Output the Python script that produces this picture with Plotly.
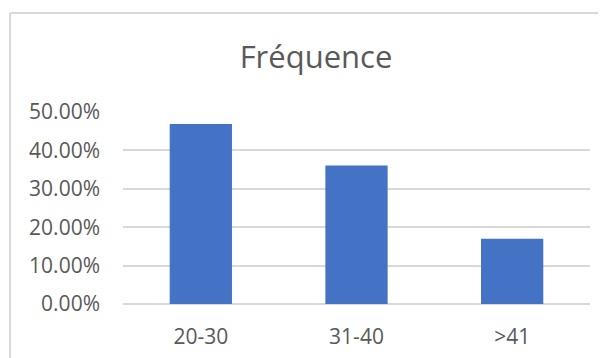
import plotly.graph_objects as go

categories = ["20-30", "31-40", ">41"]
values = [0.469, 0.361, 0.170]
tick_vals = [0.0, 0.1, 0.2, 0.3, 0.4, 0.5]

FONT = "Open Sans"
GREY = "#595959"
GRID = "#d9d9d9"

W, H = 598, 350
L, R, T, B = 115, 16, 104, 54
PW, PH = W - L - R, H - T - B

fig = go.Figure(go.Bar(
    x=categories, y=values,
    marker=dict(color="#4472c4", line=dict(width=0)),
    width=0.4,
))

bx = (2 - L) / PW
by = (H - B - 5) / PH

fig.update_layout(
    width=W, height=H,
    margin=dict(l=L, r=R, t=T, b=B),
    paper_bgcolor="white", plot_bgcolor="white",
    showlegend=False,
    font=dict(family=FONT, color=GREY, size=16),
    title=dict(text="Fréquence", x=308/W, xanchor="center",
               y=1-49/H, yanchor="middle", yref="container",
               font=dict(family=FONT, size=31, color=GREY)),
    xaxis=dict(showgrid=False, showline=False, zeroline=False, ticks="", automargin=False,
               tickfont=dict(family=FONT, size=21, color=GREY), ticklabelstandoff=18),
    yaxis=dict(range=[0, 0.5], tickvals=tick_vals, tickformat=".2%", automargin=False,
               showgrid=True, gridcolor=GRID, gridwidth=1.5, zeroline=True,
               zerolinecolor=GRID, zerolinewidth=1.5, showline=False, ticks="",
               tickfont=dict(family=FONT, size=21, color=GREY), ticklabelstandoff=22),
    shapes=[
        dict(type="line", xref="paper", yref="paper", x0=bx, x1=bx,
             y0=-0.4, y1=by, line=dict(color=GRID, width=2)),
        dict(type="line", xref="paper", yref="paper", x0=bx, x1=1.2,
             y0=by, y1=by, line=dict(color=GRID, width=2)),
    ],
)

fig.write_html("out.html")
